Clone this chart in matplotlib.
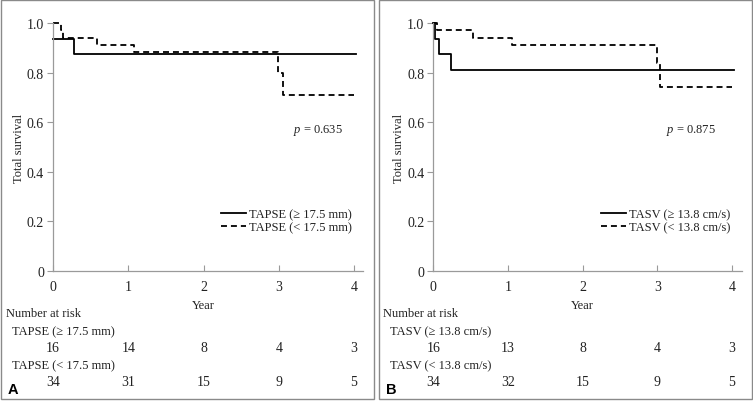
import matplotlib
matplotlib.use("Agg")
import matplotlib.pyplot as plt
from matplotlib.patches import Rectangle
import matplotlib.transforms as mtransforms

plt.rcParams['font.family'] = ['Liberation Serif', 'DejaVu Serif']
plt.rcParams['mathtext.fontset'] = 'custom'
plt.rcParams['mathtext.rm'] = 'Liberation Serif'
plt.rcParams['mathtext.it'] = 'Liberation Serif:italic'

# ---- data ----
years = [0, 1, 2, 3, 4]
ytick_vals = [0, 0.2, 0.4, 0.6, 0.8, 1.0]
ytick_labels = ["0", "0.2", "0.4", "0.6", "0.8", "1.0"]

# Panel A: TAPSE
a_hi_t = [0, 0.28, 4.03]
a_hi_s = [0.9375, 0.875, 0.875]
a_lo_t = [0, 0.11, 0.13, 0.59, 1.08, 2.99, 3.05, 4.0]
a_lo_s = [1.0, 0.97, 0.941, 0.912, 0.882, 0.80, 0.71, 0.71]
a_labels = ["TAPSE (≥ 17.5 mm)", "TAPSE (< 17.5 mm)"]
a_risk_hi = [16, 14, 8, 4, 3]
a_risk_lo = [34, 31, 15, 9, 5]
a_p = "0.635"

# Panel B: TASV
b_hi_t = [0, 0.02, 0.08, 0.24, 4.03]
b_hi_s = [1.0, 0.9375, 0.875, 0.8125, 0.8125]
b_lo_t = [0, 0.05, 0.53, 1.05, 2.99, 3.04, 4.0]
b_lo_s = [1.0, 0.97, 0.94, 0.91, 0.84, 0.74, 0.74]
b_labels = ["TASV (≥ 13.8 cm/s)", "TASV (< 13.8 cm/s)"]
b_risk_hi = [16, 13, 8, 4, 3]
b_risk_lo = [34, 32, 15, 9, 5]
b_p = "0.875"

W, H = 753, 402
fig = plt.figure(figsize=(W / 100, H / 100), dpi=100)

FS = 9
TFS = 10
TXT = '#222222'
SPINE = '#9a9a9a'
SERIF = 'Liberation Serif'
dash = (0, (3.3, 2.2))


def px(x):
    return x / W


def py(y):
    return 1 - y / H


def panel(left_px, right_px, xmax, hi_t, hi_s, lo_t, lo_s, labels, risk_hi, risk_lo,
          pval, p_x, letter, frame_l, frame_r, nar_x, lab_x):
    ax = fig.add_axes([px(left_px), py(272), px(right_px - left_px), (272 - 24) / H])
    ax.step(hi_t, hi_s, where='post', color='black', lw=1.3, clip_on=False, label=labels[0])
    ax.step(lo_t, lo_s, where='post', color='black', lw=1.3, ls=dash, clip_on=False, label=labels[1])
    ax.set_xlim(0, xmax)
    ax.set_ylim(0, 1.0)
    for s in ['top', 'right']:
        ax.spines[s].set_visible(False)
    for s in ['left', 'bottom']:
        ax.spines[s].set_color(SPINE)
        ax.spines[s].set_linewidth(0.9)
    ax.set_xticks(years)
    ax.set_xticklabels([str(y) for y in years], fontfamily=SERIF)
    ax.set_yticks(ytick_vals)
    ax.set_yticklabels(ytick_labels, fontfamily=SERIF)
    ax.tick_params(axis='y', direction='out', length=4.5, width=0.8, color=SPINE,
                   labelsize=TFS, labelcolor=TXT, pad=2)
    ax.tick_params(axis='x', direction='in', length=4, width=0.8, color=SPINE,
                   labelsize=TFS, labelcolor=TXT, pad=6.5)
    ax.set_ylabel("Total survival", fontsize=FS, color=TXT, labelpad=1.5)
    ax.text(p_x, 0.57, r"$p$" + " = " + pval, fontsize=FS, color=TXT,
            va='center', ha='left')
    leg = ax.legend(loc='lower right', bbox_to_anchor=(0.98, 0.13), frameon=False,
                    fontsize=FS, handlelength=2.0, handletextpad=0.25,
                    labelspacing=0.1, borderaxespad=0)
    for t in leg.get_texts():
        t.set_color(TXT)
    trans = mtransforms.blended_transform_factory(ax.transData, fig.transFigure)
    fig.text(2, py(306), "Year", transform=trans, ha='center', va='center',
             fontsize=FS, color=TXT)
    fig.text(px(nar_x), py(314), "Number at risk", ha='left', va='center',
             fontsize=FS, color=TXT)
    fig.text(px(lab_x), py(332), labels[0], ha='left', va='center', fontsize=FS, color=TXT)
    fig.text(px(lab_x), py(366), labels[1], ha='left', va='center', fontsize=FS, color=TXT)
    for x, n in zip(years, risk_hi):
        fig.text(x, py(349), str(n), transform=trans, ha='center', va='center',
                 fontsize=TFS, color=TXT)
    for x, n in zip(years, risk_lo):
        fig.text(x, py(383), str(n), transform=trans, ha='center', va='center',
                 fontsize=TFS, color=TXT)
    fig.text(px(frame_l + 7), py(390), letter, ha='left', va='center', fontsize=10.5,
             fontweight='bold', fontfamily='Liberation Sans', color='black')
    fig.patches.append(Rectangle((px(frame_l), py(400)), px(frame_r - frame_l), (400 - 1) / H,
                                 transform=fig.transFigure, fill=False,
                                 edgecolor='#8a8a8a', lw=1.0))
    return ax


panel(53, 362.7, 4 + 8.7 / 75.25, a_hi_t, a_hi_s, a_lo_t, a_lo_s, a_labels, a_risk_hi,
      a_risk_lo, a_p, 3.19, "A", 0.5, 373.7, 6, 12)
panel(433.3, 742, 4 + 10 / 74.7, b_hi_t, b_hi_s, b_lo_t, b_lo_s, b_labels, b_risk_hi,
      b_risk_lo, b_p, 3.11, "B", 378.7, 752.3, 383, 390)

fig.savefig("out.png", dpi=100)
